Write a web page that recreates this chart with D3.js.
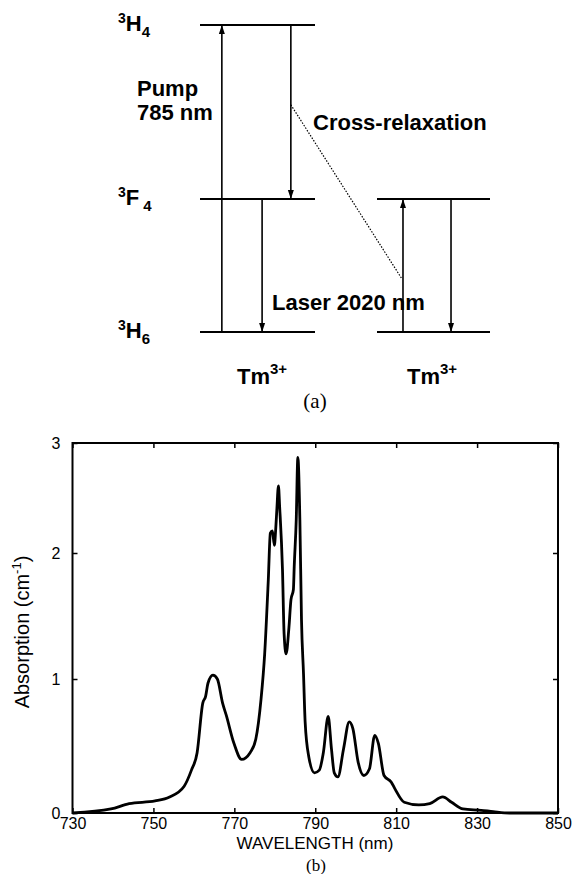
<!DOCTYPE html>
<html>
<head>
<meta charset="utf-8">
<script src="https://cdn.jsdelivr.net/npm/d3@7"></script>
<style>
  body { margin: 0; background: #fff; }
  text { fill: #000; }
</style>
</head>
<body>
<script>
// ---- (a) energy level diagram ----
var levelNames = ["H", "F", "H"];
var levelSup = ["3", "3", "3"];
var levelSub = ["6", "4", "4"];
var levelEnergy = [0, 5500, 12700]; // cm-1, roughly, index 0 = 3H6
var ionLevels = [[0, 1, 2], [0, 1]]; // which levels each ion shows
var transitions = [ // pos = fraction across the level line
  {ion: 0, from: 0, to: 2, pos: 0.19},
  {ion: 0, from: 2, to: 1, pos: 0.79},
  {ion: 0, from: 1, to: 0, pos: 0.54},
  {ion: 1, from: 0, to: 1, pos: 0.23},
  {ion: 1, from: 1, to: 0, pos: 0.655}
];
var crossRelax = [{ion: 0, pos: 0.79, e: 9400}, {ion: 1, pos: 0.22, e: 2200}];

// ---- (b) absorption spectrum ----
var wavelength = [730, 739.5, 744, 750.4, 754, 757.6, 759.4, 760.8, 762.2, 762.9, 763.5, 764.7, 765.8, 767.1, 768, 769.9,
  771.8, 773.9, 775.3, 776.6, 777.5, 778.4, 778.9, 779.4, 779.9, 780.2, 780.5, 780.9, 781.2, 781.9, 782.3, 782.8,
  783.5, 784, 784.6, 784.8, 785.3, 785.7, 786.2, 786.6, 787.1, 787.5, 788.4, 789.8, 791, 792, 793.2, 794, 794.7,
  795.6, 797, 798.4, 799.3, 800.6, 802, 803.4, 804.7, 805.6, 807, 808.8, 809.7, 812, 815.6, 818.3, 821.5, 823.7,
  826.5, 831, 834, 838, 850];
var absorption = [0, 0.03, 0.07, 0.09, 0.12, 0.2, 0.32, 0.45, 0.82, 0.87, 0.97, 1.03, 1.0, 0.82, 0.73, 0.52,
  0.40, 0.45, 0.55, 0.85, 1.2, 1.79, 2.18, 2.2, 2.07, 2.2, 2.39, 2.61, 2.42, 1.87, 1.36, 1.2,
  1.41, 1.63, 1.71, 1.89, 2.30, 2.87, 2.30, 1.47, 1.04, 0.68, 0.42, 0.3, 0.32, 0.45, 0.72, 0.48, 0.3,
  0.27, 0.48, 0.68, 0.63, 0.38, 0.28, 0.33, 0.58, 0.52, 0.28, 0.23, 0.18, 0.08, 0.06, 0.07, 0.12, 0.08,
  0.03, 0.02, 0.01, 0, 0];
var xTicks = [730, 750, 770, 790, 810, 830, 850];
var yTicks = [0, 1, 2, 3];

var W = 576, H = 874;
var svg = d3.select("body").append("svg")
  .attr("width", W).attr("height", H)
  .style("font-family", "'Liberation Sans', Arial, sans-serif");

svg.append("rect").attr("width", W).attr("height", H).attr("fill", "#fff");

// ===== (a) =====
var eY = d3.scaleLinear().domain([0, 12700]).range([332, 25]);
var ionX = [d3.scaleLinear().domain([0, 1]).range([200, 315]),
            d3.scaleLinear().domain([0, 1]).range([377, 490])];

svg.append("defs").append("marker")
  .attr("id", "head")
  .attr("markerUnits", "userSpaceOnUse")
  .attr("markerWidth", 10).attr("markerHeight", 8)
  .attr("viewBox", "0 -4 10 8")
  .attr("refX", 9).attr("refY", 0)
  .attr("orient", "auto")
  .append("path").attr("d", "M0,-3L9,0L0,3Z").attr("fill", "#000");

var diag = svg.append("g");

ionLevels.forEach(function (lv, ion) {
  diag.selectAll(null).data(lv).enter().append("line")
    .attr("x1", ionX[ion](0)).attr("x2", ionX[ion](1))
    .attr("y1", function (l) { return eY(levelEnergy[l]); })
    .attr("y2", function (l) { return eY(levelEnergy[l]); })
    .attr("stroke", "#000").attr("stroke-width", 2);
});

diag.selectAll(null).data(transitions).enter().append("line")
  .attr("x1", function (d) { return ionX[d.ion](d.pos); })
  .attr("x2", function (d) { return ionX[d.ion](d.pos); })
  .attr("y1", function (d) { return eY(levelEnergy[d.from]); })
  .attr("y2", function (d) { return eY(levelEnergy[d.to]); })
  .attr("stroke", "#000").attr("stroke-width", 1.6)
  .attr("marker-end", "url(#head)");

diag.append("line")
  .attr("x1", ionX[crossRelax[0].ion](crossRelax[0].pos)).attr("y1", eY(crossRelax[0].e))
  .attr("x2", ionX[crossRelax[1].ion](crossRelax[1].pos)).attr("y2", eY(crossRelax[1].e))
  .attr("stroke", "#000").attr("stroke-width", 1.2)
  .attr("stroke-dasharray", "1.5,1.5");

// level labels like 3H4
var lab = diag.selectAll(null).data([0, 1, 2]).enter().append("text")
  .attr("x", 118)
  .attr("y", function (l) { return eY(levelEnergy[l]) + 6; })
  .attr("font-weight", "bold");
lab.append("tspan").attr("font-size", 14).attr("dy", -8).text(function (l) { return levelSup[l]; });
lab.append("tspan").attr("font-size", 22).attr("dy", 8).text(function (l) { return levelNames[l]; });
lab.append("tspan").attr("font-size", 15).attr("dy", 6)
  .attr("dx", function (l) { return levelNames[l] === "F" ? 4 : 0; })
  .text(function (l) { return levelSub[l]; });

var boldText = [
  {t: "Pump", x: 137, y: 96},
  {t: "785 nm", x: 137, y: 120},
  {t: "Cross-relaxation", x: 313, y: 130},
  {t: "Laser 2020 nm", x: 272, y: 310}
];
diag.selectAll(null).data(boldText).enter().append("text")
  .attr("x", function (d) { return d.x; }).attr("y", function (d) { return d.y; })
  .attr("font-size", 22).attr("font-weight", "bold")
  .text(function (d) { return d.t; });

var tm = diag.selectAll(null).data([237, 407]).enter().append("text")
  .attr("x", function (d) { return d; }).attr("y", 384)
  .attr("font-weight", "bold");
tm.append("tspan").attr("font-size", 22).text("Tm");
tm.append("tspan").attr("font-size", 15).attr("dy", -10).text("3+");

svg.append("text").attr("x", 315).attr("y", 408)
  .attr("text-anchor", "middle")
  .style("font-family", "'Liberation Serif', 'Times New Roman', serif")
  .attr("font-size", 21).text("(a)");

// ===== (b) =====
var x = d3.scaleLinear().domain([730, 850]).range([72.5, 558]);
var y = d3.scaleLinear().domain([0, 1, 2, 3]).range([813, 679, 553, 443]);

var plot = svg.append("g");

plot.append("rect")
  .attr("x", x(730)).attr("y", y(3))
  .attr("width", x(850) - x(730)).attr("height", y(0) - y(3))
  .attr("fill", "none").attr("stroke", "#000").attr("stroke-width", 2);

function styleAxis(g, noLabels) {
  g.select(".domain").remove();
  g.selectAll(".tick line").attr("stroke", "#000").attr("stroke-width", 1.5);
  g.selectAll(".tick text").attr("font-size", 16)
    .style("font-family", "'Liberation Sans', Arial, sans-serif");
  if (noLabels) g.selectAll(".tick text").remove();
}

plot.append("g").attr("transform", "translate(0," + y(0) + ")")
  .call(d3.axisBottom(x).tickValues(xTicks).tickSize(-5).tickPadding(5).tickFormat(d3.format("d")))
  .call(styleAxis);
plot.append("g").attr("transform", "translate(0," + y(3) + ")")
  .call(d3.axisTop(x).tickValues(xTicks).tickSize(-5))
  .call(styleAxis, true);
plot.append("g").attr("transform", "translate(" + x(730) + ",0)")
  .call(d3.axisLeft(y).tickValues(yTicks).tickSize(-5).tickPadding(12).tickFormat(d3.format("d")))
  .call(styleAxis);
plot.append("g").attr("transform", "translate(" + x(850) + ",0)")
  .call(d3.axisRight(y).tickValues(yTicks).tickSize(-5))
  .call(styleAxis, true);

var line = d3.line()
  .x(function (d, i) { return x(wavelength[i]); })
  .y(function (d) { return y(d); })
  .curve(d3.curveMonotoneX);

plot.append("path").datum(absorption)
  .attr("d", line)
  .attr("fill", "none").attr("stroke", "#000")
  .attr("stroke-width", 2.8).attr("stroke-linejoin", "round");

plot.append("text").attr("x", 315).attr("y", 849)
  .attr("text-anchor", "middle").attr("font-size", 17)
  .text("WAVELENGTH (nm)");

var yl = plot.append("text")
  .attr("transform", "translate(29,632) rotate(-90)")
  .attr("text-anchor", "middle").attr("font-size", 20);
yl.append("tspan").text("Absorption (cm");
yl.append("tspan").attr("font-size", 13).attr("dy", -8).text("-1");
yl.append("tspan").attr("dy", 8).text(")");

svg.append("text").attr("x", 316).attr("y", 871)
  .attr("text-anchor", "middle")
  .style("font-family", "'Liberation Serif', 'Times New Roman', serif")
  .attr("font-size", 17).text("(b)");
</script>
</body>
</html>
